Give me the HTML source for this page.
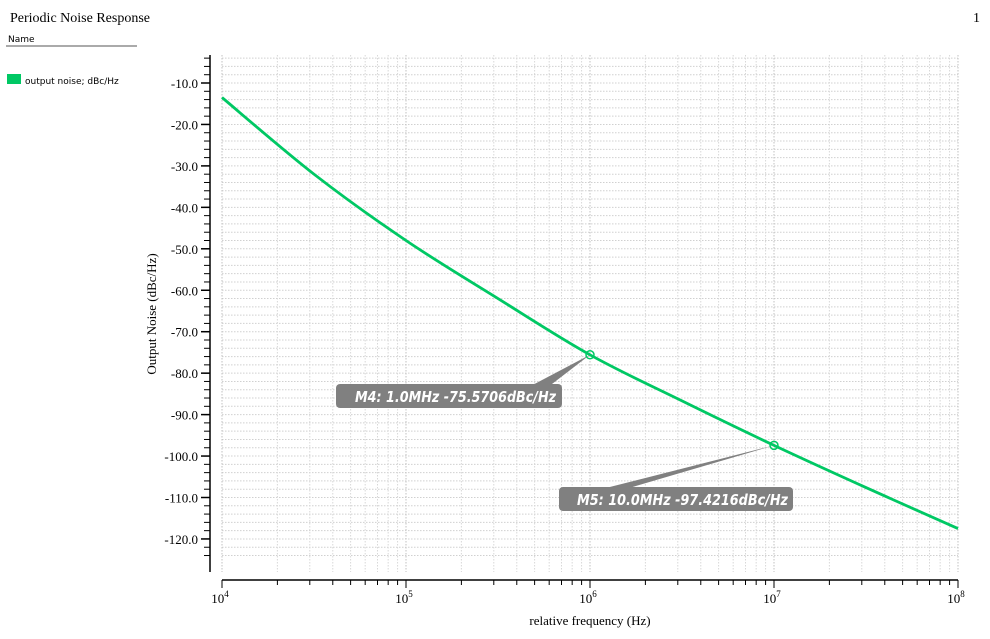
<!DOCTYPE html>
<html><head><meta charset="utf-8"><style>
body{margin:0;background:#fff;width:990px;height:634px;overflow:hidden;font-family:"Liberation Serif",serif}
</style></head><body>
<svg id="c" width="990" height="634" xmlns="http://www.w3.org/2000/svg">
<text x="10" y="22" font-size="14" font-family="Liberation Serif">Periodic Noise Response</text>
<text x="980" y="22" font-size="14" text-anchor="end" font-family="Liberation Serif">1</text>
<text x="8" y="42" font-size="9" font-family="DejaVu Sans">Name</text>
<line x1="6" y1="46" x2="137" y2="46" stroke="#555"/>
<rect x="7" y="74" width="14" height="10" fill="#00c864"/>
<text x="25" y="84" font-size="9" font-family="DejaVu Sans">output noise; dBc/Hz</text>
<g id="grid"></g><g id="axes"></g><g id="series"></g><g id="markers"></g>
<text transform="translate(156,314) rotate(-90)" font-size="13" text-anchor="middle">Output Noise (dBc/Hz)</text>
<text x="590" y="625" font-size="13" text-anchor="middle">relative frequency (Hz)</text>
</svg>
<script>
const logFreq=[4,4.5,5,5.5,6,6.5,7,7.5,8];
const noise=[-13.5,-32.0,-48.0,-62.0,-75.57,-86.7,-97.42,-107.6,-117.5];
const yTicks=[-10,-20,-30,-40,-50,-60,-70,-80,-90,-100,-110,-120];
const xDecades=[4,5,6,7,8];
const markerNames=["M4","M5"];
const markerLogF=[6,7];
const markerVal=[-75.5706,-97.4216];
const markerFreqLabel=["1.0MHz","10.0MHz"];
const NS="http://www.w3.org/2000/svg";
const X=l=>222+(l-4)*184;
const Y=v=>83+(-10-v)*4.145;
function mk(p,t,a){const e=document.createElementNS(NS,t);for(const k in a)e.setAttribute(k,a[k]);p.appendChild(e);return e;}
const grid=document.getElementById('grid'),axes=document.getElementById('axes'),ser=document.getElementById('series'),mg=document.getElementById('markers');
const yTop=55,yBot=572;
for(let v=-2;v>=-124;v-=2){const y=Y(v);if(y<yTop||y>yBot)continue;
 const g=mk(grid,'line',{x1:222,x2:958,y1:y,y2:y,stroke:'#d0d0d0','stroke-dasharray':'1.5,1.5','stroke-width':1});
 
 
 const t=mk(axes,'line',{x1:204,x2:210,y1:y,y2:y,stroke:'#000'});
 
 }
for(let i=0;i<xDecades.length;i++){const d=xDecades[i];
 for(let m=1;m<=9;m++){const l=d+Math.log10(m);if(l>8.0001)break;const x=X(l);
  const g=mk(grid,'line',{x1:x,x2:x,y1:yTop,y2:yBot,stroke:m==1?'#c0c0c0':'#d8d8d8','stroke-dasharray':'1.5,1.5'});
  
  
  const t=mk(axes,'line',{x1:x,x2:x,y1:580,y2:m==1?588:585,stroke:'#000'});
  
  }
 const lb=mk(axes,'text',{x:X(d)-2,y:603,'font-size':13,'text-anchor':'middle'});
 
 
 lb.textContent='10';const s=mk(lb,'tspan',{dy:-6,'font-size':9});s.textContent=d;}
for(const v of yTicks){const y=Y(v);
 const t=mk(axes,'line',{x1:201,x2:210,y1:y,y2:y,stroke:'#000','stroke-width':1.5});
 
 
 const lb=mk(axes,'text',{x:198,y:y+5,'font-size':13,'text-anchor':'end'});
 
 
 lb.textContent=v.toFixed(1);}
let a=mk(axes,'line',{x1:210,x2:210,y1:yTop,y2:yBot,stroke:'#000','stroke-width':1.5});


a=mk(axes,'line',{x1:222,x2:958,y1:580,y2:580,stroke:'#000','stroke-width':1.5});


const pts=logFreq.map((l,i)=>[X(l),Y(noise[i])]);
let d='M'+pts[0];
for(let i=0;i<pts.length-1;i++){const p0=pts[Math.max(0,i-1)],p1=pts[i],p2=pts[i+1],p3=pts[Math.min(pts.length-1,i+2)];
 d+=' C'+(p1[0]+(p2[0]-p0[0])/6)+','+(p1[1]+(p2[1]-p0[1])/6)+' '+(p2[0]-(p3[0]-p1[0])/6)+','+(p2[1]-(p3[1]-p1[1])/6)+' '+p2[0]+','+p2[1];}
const line=mk(ser,'path',{d:d,fill:'none',stroke:'#00c864','stroke-width':2.8});


const boxes=[[336,384,226,355,201],[559,487,234,577,211]];
for(let i=0;i<markerNames.length;i++){const mx=X(markerLogF[i]),my=Y(markerVal[i]);const b=boxes[i];
 const tri=mk(mg,'polygon',{points:`${mx},${my} ${b[0]+b[2]*(i?0.2:0.87)},${b[1]+1} ${b[0]+b[2]*(i?0.3:0.95)},${b[1]+1}`,fill:'#808080'});
 
 
 const r=mk(mg,'rect',{x:b[0],y:b[1],width:b[2],height:24,rx:4,fill:'#808080'});
 
 
 const t=mk(mg,'text',{x:b[3],y:b[1]+18,'font-size':15,'font-style':'italic','font-weight':'bold','font-family':'DejaVu Sans, sans-serif',fill:'#fff',textLength:b[4],lengthAdjust:'spacingAndGlyphs'});
 
 
 t.textContent=markerNames[i]+': '+markerFreqLabel[i]+' '+markerVal[i]+'dBc/Hz';
 const c=mk(mg,'circle',{cx:mx,cy:my,r:4,fill:'none',stroke:'#00c864','stroke-width':1.5});
 
 }
</script>
</body></html>
